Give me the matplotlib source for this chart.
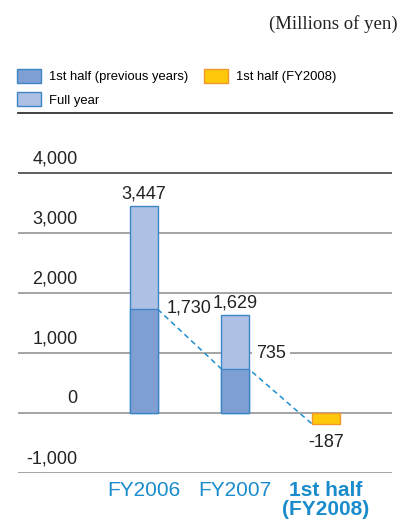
import matplotlib
matplotlib.use("Agg")
import matplotlib.pyplot as plt
from matplotlib.patches import Patch
import matplotlib.transforms as mtransforms

# --- data ---
periods = ["FY2006", "FY2007", "1st half\n(FY2008)"]
full_year = [3447, 1629]
first_half_prev = [1730, 735]
first_half_fy2008 = -187
y_ticks = [-1000, 0, 1000, 2000, 3000, 4000]

# --- colours ---
DARK = "#7f9fd3"
LIGHT = "#aec0e4"
EDGE = "#3d86c6"
ORANGE = "#ffc90b"
ORANGE_EDGE = "#f5962a"
BLUE_TXT = "#1a8ccc"

NUM = dict(fontsize=13, color="#222222")
plt.rcParams["font.family"] = ["Liberation Sans", "DejaVu Sans"]

fig = plt.figure(figsize=(4.02, 5.22), dpi=100)
ax = fig.add_axes([18 / 402, 49 / 522, 374 / 402, 360 / 522])
ax.set_xlim(-1.385, 2.725)
ax.set_ylim(-1000, 5000)
ax.axis("off")

# gridlines
for v in y_ticks:
    col = "#333333" if v == 4000 else "#8c8c8c"
    ax.axhline(v, color=col, lw=1.1, zorder=1)
ax.axhline(5000, color="#333333", lw=1.3, zorder=1, clip_on=False)

# tick labels (above each line)
tr = mtransforms.blended_transform_factory(ax.transAxes, ax.transData)
for v in y_ticks:
    ax.text(0.160, v + 235, f"{v:,}", transform=tr, ha="right", va="center",
            **NUM)

w = 0.3
xs = [0, 1]
# bars
ax.bar(xs, full_year, width=w, color=LIGHT, edgecolor=EDGE, lw=1, zorder=3)
ax.bar(xs, first_half_prev, width=w, color=DARK, edgecolor=EDGE, lw=1, zorder=4)
ax.bar([2], [first_half_fy2008], width=w, color=ORANGE, edgecolor=ORANGE_EDGE,
       lw=1, zorder=4)

# dashed trend of first halves
half_all = first_half_prev + [first_half_fy2008]
lx = [0 + w / 2, 1 - w / 2, 1 + w / 2, 2 - w / 2]
ly = [half_all[0], half_all[1], half_all[1], half_all[2]]
ax.plot(lx, ly, color="#1e8fd0", lw=1.1, ls=(0, (3.5, 2.5)), zorder=2)

# value labels
for x, v in zip(xs, full_year):
    ax.text(x, v + 60, f"{v:,}", ha="center", va="bottom", zorder=5, **NUM)
ax.text(0 + w / 2 + 0.1, first_half_prev[0] + 20, f"{first_half_prev[0]:,}",
        ha="left", va="center", **NUM)
ax.text(1 + w / 2 + 0.08, 1000, f"{first_half_prev[1]:,}", ha="left",
        va="center", zorder=5,
        bbox=dict(facecolor="white", edgecolor="none", pad=3), **NUM)
ax.text(2, first_half_fy2008 - 160, f"{first_half_fy2008:,}", ha="center",
        va="top", **NUM)

# category labels
trx = mtransforms.blended_transform_factory(ax.transData, ax.transAxes)
for i, lab in enumerate(periods):
    bold = i == 2
    ax.text(i, -0.022, lab, transform=trx, ha="center", va="top",
            fontsize=15, color=BLUE_TXT, linespacing=1.0,
            fontweight="bold" if bold else "normal")

# unit
fig.text(398 / 402, 1 - 24 / 522, "(Millions of yen)", ha="right", va="center",
         fontsize=13.5, family=["Liberation Serif", "DejaVu Serif"], color="#222222")

# legend
handles = [
    Patch(facecolor=DARK, edgecolor=EDGE, lw=1, label="1st half (previous years)"),
    Patch(facecolor=LIGHT, edgecolor=EDGE, lw=1, label="Full year"),
    Patch(facecolor=ORANGE, edgecolor=ORANGE_EDGE, lw=1, label="1st half (FY2008)"),
]
fig.legend(handles=handles, ncol=2, loc="upper left",
           bbox_to_anchor=(17 / 402, 1 - 69 / 522), frameon=False, fontsize=9.4,
           handlelength=1.85, handleheight=1.23, handletextpad=0.62,
           labelspacing=0.7, columnspacing=1.2, borderpad=0,
           borderaxespad=0)

fig.savefig("out.png", dpi=100)
